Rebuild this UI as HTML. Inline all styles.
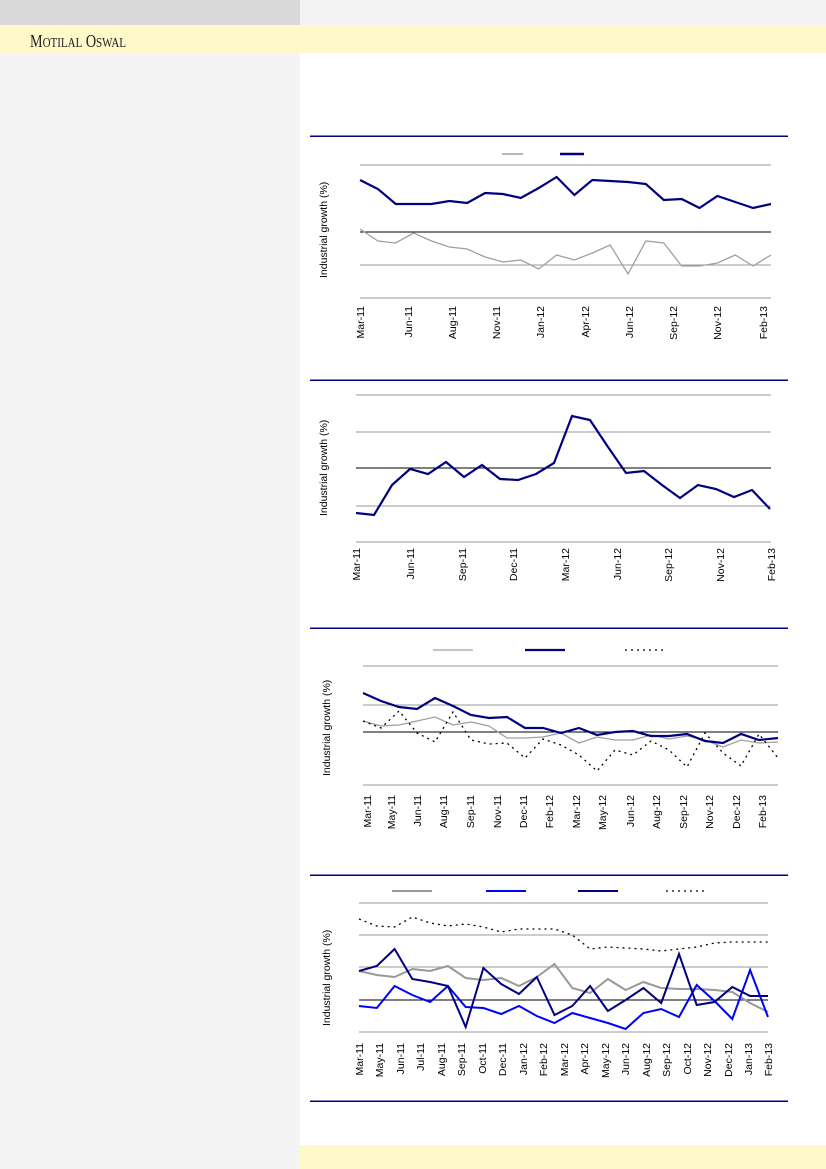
<!DOCTYPE html>
<html><head><meta charset="utf-8"><style>
html,body{margin:0;padding:0}
body{width:826px;height:1169px;position:relative;overflow:hidden;background:#fff;font-family:"Liberation Sans",sans-serif}
</style></head><body>
<svg width="826" height="1169" viewBox="0 0 826 1169" xmlns="http://www.w3.org/2000/svg" style="position:absolute;left:0;top:0">
<rect x="0" y="0" width="826" height="1169" fill="#fff"/>
<rect x="0" y="0" width="300" height="25" fill="#dadada"/>
<rect x="300" y="0" width="526" height="25" fill="#f4f4f4"/>
<rect x="0" y="25" width="826" height="28" fill="#fff8c8"/>
<rect x="0" y="53" width="300" height="1116" fill="#f4f4f4"/>
<rect x="300" y="1145" width="526" height="24" fill="#fff8c8"/>
<text x="30" y="47" font-family="Liberation Serif,serif" font-size="18" fill="#222" textLength="96" lengthAdjust="spacingAndGlyphs">M<tspan font-size="14">OTILAL</tspan> O<tspan font-size="14">SWAL</tspan></text>
<g font-size="10.5" fill="#000" font-family="Liberation Sans,sans-serif">
<g shape-rendering="crispEdges">
<line x1="310" y1="136" x2="788" y2="136" stroke="#000080" stroke-width="1.5"/>
<line x1="310" y1="380" x2="788" y2="380" stroke="#000080" stroke-width="1.5"/>
<line x1="310" y1="628" x2="788" y2="628" stroke="#000080" stroke-width="1.5"/>
<line x1="310" y1="875" x2="788" y2="875" stroke="#000080" stroke-width="1.5"/>
<line x1="310" y1="1101" x2="788" y2="1101" stroke="#000080" stroke-width="1.5"/>
<g stroke="#999"><line x1="360" y1="165" x2="771" y2="165"/><line x1="360" y1="265" x2="771" y2="265"/><line x1="360" y1="298" x2="771" y2="298"/></g>
<line x1="360" y1="232" x2="771" y2="232" stroke="#000"/>
<g stroke="#999"><line x1="356" y1="395" x2="771" y2="395"/><line x1="356" y1="432" x2="771" y2="432"/><line x1="356" y1="506" x2="771" y2="506"/><line x1="356" y1="542" x2="771" y2="542"/></g>
<line x1="356" y1="468" x2="771" y2="468" stroke="#000"/>
<g stroke="#999"><line x1="363" y1="666" x2="778" y2="666"/><line x1="363" y1="705" x2="778" y2="705"/><line x1="363" y1="785" x2="778" y2="785"/></g>
<line x1="363" y1="732" x2="778" y2="732" stroke="#000"/>
<g stroke="#999"><line x1="359" y1="903" x2="768" y2="903"/><line x1="359" y1="935" x2="768" y2="935"/><line x1="359" y1="967" x2="768" y2="967"/><line x1="359" y1="1032" x2="768" y2="1032"/></g>
<line x1="359" y1="1000" x2="768" y2="1000" stroke="#000"/>
</g>
<!-- Chart 1 -->
<line x1="502" y1="154" x2="523" y2="154" stroke="#a0a0a0" stroke-width="1.5"/>
<line x1="560" y1="154" x2="584" y2="154" stroke="#000080" stroke-width="2.5"/>
<text transform="translate(327,278) rotate(-90)">Industrial growth (%)</text>
<polyline fill="none" stroke="#a0a0a0" stroke-width="1.3" points="360,229 377.9,241 395.7,243 413.6,233 431.5,241 449.3,247 467.2,249 485.1,257 503,262 520.8,260 538.7,269 556.6,255 574.4,260 592.3,253 610.2,245 628,274 645.9,241 663.8,243 681.7,266 699.5,266 717.4,263 735.3,255 753.1,266 771,255"/>
<polyline fill="none" stroke="#000080" stroke-width="2.2" points="360,180 377.9,189 395.7,204 413.6,204 431.5,204 449.3,201 467.2,203 485.1,193 503,194 520.8,198 538.7,188 556.6,177 574.4,195 592.3,180 610.2,181 628,182 645.9,184 663.8,200 681.7,199 699.5,208 717.4,196 735.3,202 753.1,208 771,204"/>
<g text-anchor="end">
<text transform="translate(364,306) rotate(-90)">Mar-11</text><text transform="translate(412,306) rotate(-90)">Jun-11</text><text transform="translate(456,306) rotate(-90)">Aug-11</text><text transform="translate(500,306) rotate(-90)">Nov-11</text><text transform="translate(544,306) rotate(-90)">Jan-12</text><text transform="translate(589,306) rotate(-90)">Apr-12</text><text transform="translate(633,306) rotate(-90)">Jun-12</text><text transform="translate(677,306) rotate(-90)">Sep-12</text><text transform="translate(721,306) rotate(-90)">Nov-12</text><text transform="translate(767,306) rotate(-90)">Feb-13</text>
</g>
<!-- Chart 2 -->
<text transform="translate(327,516) rotate(-90)">Industrial growth (%)</text>
<polyline fill="none" stroke="#000080" stroke-width="2.2" points="356,513 374,515 392,485 410,469 428,474 446,462 464,477 482,465 500,479 518,480 536,474 554,463 572,416 590,420 608,447 626,473 644,471 662,485 680,498 698,485 716,489 734,497 752,490 770,509"/>
<g text-anchor="end">
<text transform="translate(360,548) rotate(-90)">Mar-11</text><text transform="translate(414,548) rotate(-90)">Jun-11</text><text transform="translate(466,548) rotate(-90)">Sep-11</text><text transform="translate(517,548) rotate(-90)">Dec-11</text><text transform="translate(569,548) rotate(-90)">Mar-12</text><text transform="translate(621,548) rotate(-90)">Jun-12</text><text transform="translate(672,548) rotate(-90)">Sep-12</text><text transform="translate(724,548) rotate(-90)">Nov-12</text><text transform="translate(775,548) rotate(-90)">Feb-13</text>
</g>
<!-- Chart 3 -->
<line x1="433" y1="650" x2="473" y2="650" stroke="#a0a0a0" stroke-width="1.3"/>
<line x1="525" y1="650" x2="565" y2="650" stroke="#000080" stroke-width="2.2"/>
<line x1="625" y1="650" x2="665" y2="650" stroke="#000" stroke-width="1.3" stroke-dasharray="2,4"/>
<text transform="translate(330,776) rotate(-90)">Industrial growth (%)</text>
<polyline fill="none" stroke="#a0a0a0" stroke-width="1.3" points="363,721 381,726 399,725 417,721 435,717 453,725 471,722 489,726 507,738 525,738 543,737 561,733 579,743 597,737 615,740 633,740 651,735 669,739 687,736 705,740 723,747 741,740 759,743 778,742"/>
<polyline fill="none" stroke="#000080" stroke-width="2.2" points="363,693 381,701 399,707 417,709 435,698 453,706 471,715 489,718 507,717 525,728 543,728 561,733 579,728 597,735 615,732 633,731 651,736 669,736 687,734 705,741 723,743 741,734 759,740 778,738"/>
<polyline fill="none" stroke="#000" stroke-width="1.3" stroke-dasharray="2,4" points="363,721 381,728 399,711 417,733 435,742 453,712 471,740 489,744 507,743 525,758 543,739 561,745 579,755 597,771 615,750 633,755 651,741 669,750 687,767 705,733 723,753 741,766 759,734 778,758"/>
<g text-anchor="end">
<text transform="translate(371,795) rotate(-90)">Mar-11</text><text transform="translate(395,795) rotate(-90)">May-11</text><text transform="translate(421,795) rotate(-90)">Jun-11</text><text transform="translate(447,795) rotate(-90)">Aug-11</text><text transform="translate(474,795) rotate(-90)">Sep-11</text><text transform="translate(501,795) rotate(-90)">Nov-11</text><text transform="translate(527,795) rotate(-90)">Dec-11</text><text transform="translate(553,795) rotate(-90)">Feb-12</text><text transform="translate(580,795) rotate(-90)">Mar-12</text><text transform="translate(606,795) rotate(-90)">May-12</text><text transform="translate(634,795) rotate(-90)">Jun-12</text><text transform="translate(660,795) rotate(-90)">Aug-12</text><text transform="translate(687,795) rotate(-90)">Sep-12</text><text transform="translate(713,795) rotate(-90)">Nov-12</text><text transform="translate(740,795) rotate(-90)">Dec-12</text><text transform="translate(766,795) rotate(-90)">Feb-13</text>
</g>
<!-- Chart 4 -->
<line x1="392" y1="891" x2="432" y2="891" stroke="#999" stroke-width="2"/>
<line x1="486" y1="891" x2="526" y2="891" stroke="#0000ff" stroke-width="2"/>
<line x1="578" y1="891" x2="618" y2="891" stroke="#000080" stroke-width="2"/>
<line x1="666" y1="891" x2="706" y2="891" stroke="#000" stroke-width="1.3" stroke-dasharray="2,4"/>
<text transform="translate(330,1026) rotate(-90)">Industrial growth (%)</text>
<polyline fill="none" stroke="#000" stroke-width="1.3" stroke-dasharray="2,4" points="359,919 376.8,926 394.6,927 412.3,917 430.1,923 447.9,926 465.7,924 483.4,927 501.2,932 519,929 536.8,929 554.5,929 572.3,935 590.1,949 607.9,947 625.6,948 643.4,949 661.2,951 679,949 696.7,947 714.5,943 732.3,942 750.1,942 768,942"/>
<polyline fill="none" stroke="#999" stroke-width="2" points="359,971 376.8,975 394.6,977 412.3,969 430.1,971 447.9,966 465.7,978 483.4,980 501.2,978 519,986 536.8,977 554.5,964 572.3,988 590.1,993 607.9,979 625.6,990 643.4,982 661.2,988 679,989 696.7,989 714.5,990 732.3,992 750.1,1003 768,1012"/>
<polyline fill="none" stroke="#0000ff" stroke-width="2" points="359,1006 376.8,1008 394.6,986 412.3,995 430.1,1002 447.9,986 465.7,1007 483.4,1008 501.2,1014 519,1006 536.8,1016 554.5,1023 572.3,1013 590.1,1018 607.9,1023 625.6,1029 643.4,1013 661.2,1009 679,1017 696.7,985 714.5,1001 732.3,1019 750.1,970 768,1017"/>
<polyline fill="none" stroke="#000080" stroke-width="2" points="359,971 376.8,966 394.6,949 412.3,979 430.1,982 447.9,986 465.7,1027 483.4,968 501.2,984 519,994 536.8,977 554.5,1015 572.3,1006 590.1,986 607.9,1011 625.6,1000 643.4,988 661.2,1003 679,954 696.7,1005 714.5,1002 732.3,987 750.1,996 768,996"/>
<g text-anchor="end">
<text transform="translate(363,1043) rotate(-90)">Mar-11</text><text transform="translate(383,1043) rotate(-90)">May-11</text><text transform="translate(404,1043) rotate(-90)">Jun-11</text><text transform="translate(424,1043) rotate(-90)">Jul-11</text><text transform="translate(445,1043) rotate(-90)">Aug-11</text><text transform="translate(465,1043) rotate(-90)">Sep-11</text><text transform="translate(486,1043) rotate(-90)">Oct-11</text><text transform="translate(506,1043) rotate(-90)">Dec-11</text><text transform="translate(527,1043) rotate(-90)">Jan-12</text><text transform="translate(547,1043) rotate(-90)">Feb-12</text><text transform="translate(568,1043) rotate(-90)">Mar-12</text><text transform="translate(588,1043) rotate(-90)">Apr-12</text><text transform="translate(609,1043) rotate(-90)">May-12</text><text transform="translate(629,1043) rotate(-90)">Jun-12</text><text transform="translate(650,1043) rotate(-90)">Aug-12</text><text transform="translate(670,1043) rotate(-90)">Sep-12</text><text transform="translate(691,1043) rotate(-90)">Oct-12</text><text transform="translate(711,1043) rotate(-90)">Nov-12</text><text transform="translate(732,1043) rotate(-90)">Dec-12</text><text transform="translate(752,1043) rotate(-90)">Jan-13</text><text transform="translate(772,1043) rotate(-90)">Feb-13</text>
</g>
</g>
</svg>
</body></html>
